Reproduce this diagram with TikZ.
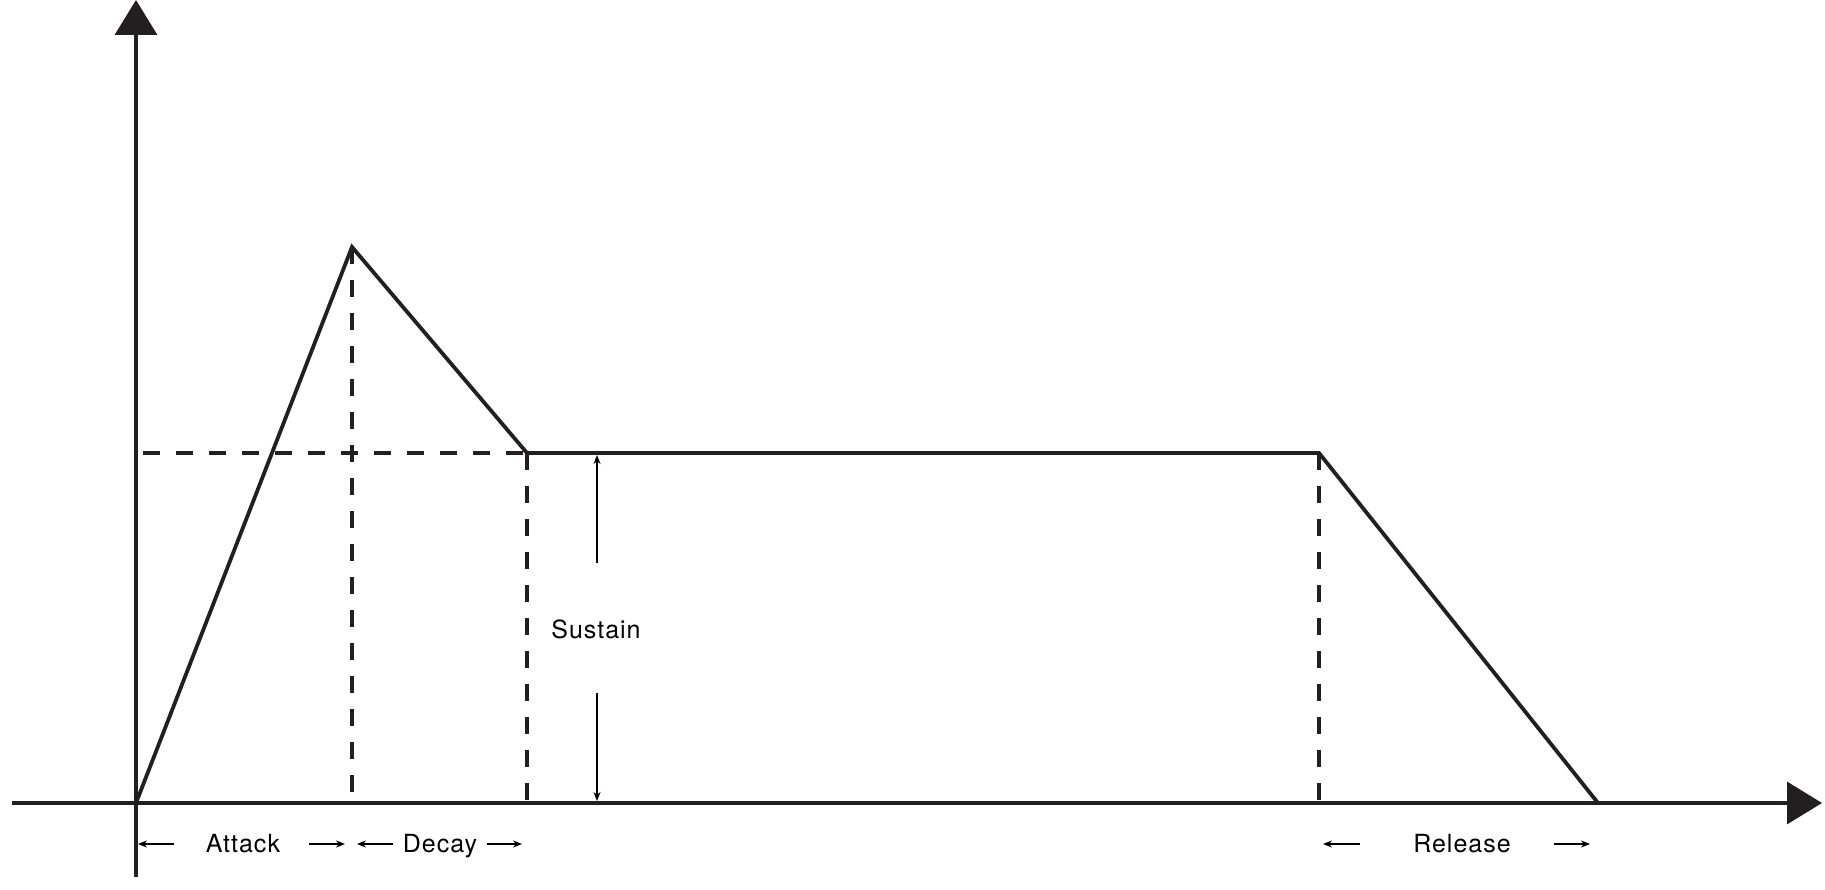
\documentclass[tikz,border=0pt]{standalone}
\usepackage{fontspec}
\setmainfont{TeX Gyre Heros}[LetterSpace=4]
\usetikzlibrary{arrows.meta}
\definecolor{ink}{HTML}{231F20}
\begin{document}
\begin{tikzpicture}[x=1pt,y=-1pt,
  axis/.style={draw=ink,line width=3.5pt,-{Triangle[width=42pt,length=35pt]}},
  curve/.style={draw=ink,line width=3.8pt,line join=miter},
  guide/.style={draw=ink,line width=3.8pt,dash pattern=on 17pt off 16pt},
  dim/.style={draw=black,line width=1.5pt,-{Stealth[length=9pt,width=7pt]}},
  lab/.style={font=\fontsize{25}{28}\selectfont,text=black,inner sep=0pt,anchor=base}]
\useasboundingbox (0,0) rectangle (1825,890);
% key points
\coordinate (o) at (136,803);
\coordinate (peak) at (352,247);
\coordinate (sus) at (527,453);
\coordinate (rel) at (1319,453);
\coordinate (end) at (1598,803);
\coordinate (ybot) at (136,877);
\coordinate (ytop) at (136,0);
\coordinate (xl) at (12,803);
\coordinate (xr) at (1822,803);
\coordinate (peakb) at (352,803);
\coordinate (susb) at (527,803);
\coordinate (relb) at (1319,803);
\coordinate (hl) at (143,453);
% guides
\draw[guide] (hl) -- (sus);
\draw[guide] (peak) -- (peakb);
\draw[guide] (sus) -- (susb);
\draw[guide] (rel) -- (relb);
% axes
\draw[axis] (ybot) -- (ytop);
\draw[axis] (xl) -- (xr);
% envelope
\draw[curve] (o) -- (peak) -- (sus) -- (rel) -- (end);
% sustain label
\node[lab] (sustain) at (596,638) {Sustain};
\coordinate (su1) at (597,563);
\coordinate (su2) at (597,455);
\coordinate (sd1) at (597,693);
\coordinate (sd2) at (597,801);
\draw[dim] (su1) -- (su2);
\draw[dim] (sd1) -- (sd2);
% bottom labels
\node[lab] (attack) at (243,852) {Attack};
\node[lab] (decay) at (440,852) {Decay};
\node[lab] (release) at (1462,852) {Release};
\coordinate (a1) at (174,844); \coordinate (a1t) at (138,844);
\coordinate (a2) at (309,844); \coordinate (a2t) at (345,844);
\coordinate (d1) at (393,844); \coordinate (d1t) at (357,844);
\coordinate (d2) at (487,844); \coordinate (d2t) at (522,844);
\coordinate (r1) at (1360,844); \coordinate (r1t) at (1323,844);
\coordinate (r2) at (1554,844); \coordinate (r2t) at (1590,844);
\draw[dim] (a1) -- (a1t);
\draw[dim] (a2) -- (a2t);
\draw[dim] (d1) -- (d1t);
\draw[dim] (d2) -- (d2t);
\draw[dim] (r1) -- (r1t);
\draw[dim] (r2) -- (r2t);
\end{tikzpicture}
\end{document}
